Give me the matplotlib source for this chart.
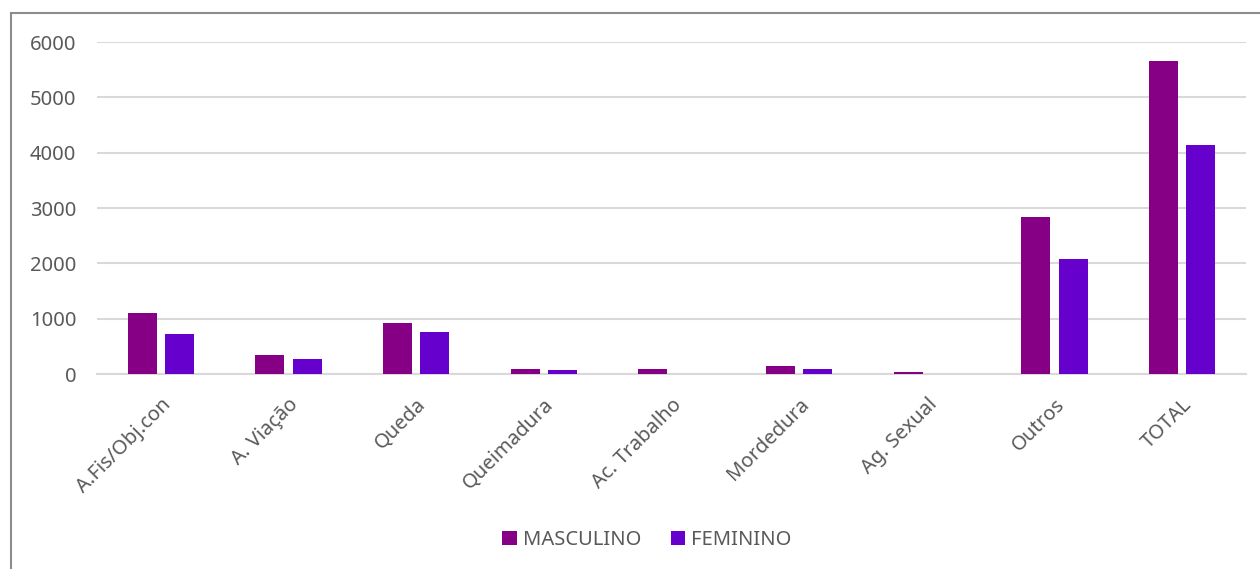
import matplotlib
matplotlib.use("Agg")
import matplotlib.pyplot as plt
import numpy as np
from matplotlib.patches import Rectangle

categories = ["A.Fis/Obj.con", "A. Viação", "Queda", "Queimadura", "Ac. Trabalho",
              "Mordedura", "Ag. Sexual", "Outros", "TOTAL"]
masculino = [1100, 340, 930, 85, 85, 145, 40, 2830, 5660]
feminino = [725, 280, 760, 72, 8, 96, 0, 2080, 4145]
yticks = [0, 1000, 2000, 3000, 4000, 5000, 6000]

plt.rcParams['font.family'] = ['Noto Sans', 'DejaVu Sans']

W, H = 1260, 569
fig = plt.figure(figsize=(W / 100, H / 100), dpi=100)
fig.patch.set_facecolor('white')

# outer border (top and left visible)
fig.patches.append(Rectangle((11 / W, -0.1), 1.2, 1 - 13 / H + 0.1, transform=fig.transFigure,
                             fill=False, edgecolor='#8c8c8c', linewidth=1.5, zorder=0))

ax = fig.add_axes([97 / W, 1 - 374 / H, (1246 - 97) / W, (374 - 42) / H])
x = np.arange(len(categories))
bw = 0.227
off = 0.145
ax.bar(x - off, masculino, bw, color='#860085', label='MASCULINO', zorder=3)
ax.bar(x + off, feminino, bw, color='#6600CC', label='FEMININO', zorder=3)

ax.set_xlim(-0.5, len(categories) - 0.5)
ax.set_ylim(0, 6000)
ax.set_yticks(yticks)
ax.set_yticklabels([str(v) for v in yticks])
ax.yaxis.grid(True, color='#d9d9d9', linewidth=1.5, zorder=0)
ax.set_axisbelow(True)
for s in ['top', 'right', 'left']:
    ax.spines[s].set_visible(False)
ax.spines['bottom'].set_color('#d9d9d9')
ax.spines['bottom'].set_linewidth(1.5)
ax.tick_params(axis='both', length=0, colors='#595959', labelsize=14.5)
ax.tick_params(axis='y', pad=15)
ax.set_xticks(x)
ax.set_xticklabels(categories, rotation=45, ha='right', rotation_mode='anchor')
ax.tick_params(axis='x', pad=15)

leg = fig.legend(loc='center', bbox_to_anchor=(647 / W, 1 - 540 / H), ncol=2, frameon=False,
                 fontsize=14.5, handlelength=0.72, handleheight=0.72, handletextpad=0.3,
                 columnspacing=1.45)
for t in leg.get_texts():
    t.set_color('#595959')

fig.savefig('out.png', dpi=100, facecolor='white')
